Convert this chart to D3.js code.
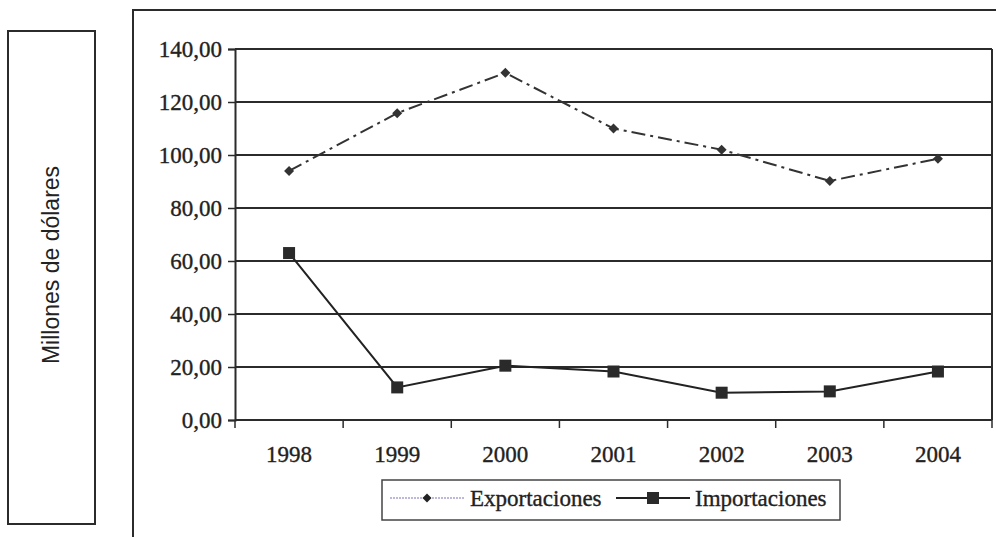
<!DOCTYPE html>
<html>
<head>
<meta charset="utf-8">
<script src="https://cdn.jsdelivr.net/npm/d3@7"></script>
<style>
  body { margin: 0; background: #fff; }
  svg { display: block; }
  .serif { font-family: 'Liberation Serif', 'Times New Roman', serif; stroke: #222; stroke-width: 0.35px; }
</style>
</head>
<body>
<svg id="chart" width="996" height="537"></svg>
<script>
// data
const years = ["1998", "1999", "2000", "2001", "2002", "2003", "2004"]
const exportaciones = [94, 115.8, 131, 110, 102, 90.2, 98.6]
const importaciones = [63, 12.3, 20.5, 18.3, 10.3, 10.8, 18.3]
const yTicks = [0, 20, 40, 60, 80, 100, 120, 140]
const seriesNames = ["Exportaciones", "Importaciones"]

const ink = "#2b2b2b"
const layout = {left: 235, right: 992, top: 49, bottom: 420}

const svg = d3.select("#chart")

// outer frame (runs off the page on right and bottom)
svg.append("path")
   .attr("d", "M133,540 L133,10 L1000,10")
   .attr("fill", "none").attr("stroke", ink).attr("stroke-width", 2)

// box holding the axis title
svg.append("rect")
   .attr("x", 8).attr("y", 31).attr("width", 87).attr("height", 493)
   .attr("fill", "none").attr("stroke", ink).attr("stroke-width", 2)

svg.append("text")
   .attr("transform", "translate(59, 265) rotate(-90)")
   .attr("text-anchor", "middle")
   .style("font-family", "'Liberation Sans', Arial, sans-serif")
   .style("font-size", "23px")
   .attr("fill", "#222")
   .text("Millones de dólares")

const xScale = d3.scaleBand()
                 .domain(years)
                 .range([layout.left, layout.right])

const yScale = d3.scaleLinear()
                 .domain([0, 140])
                 .range([layout.bottom, layout.top])

// gridlines
svg.append("g")
   .selectAll("line")
   .data(yTicks)
   .join("line")
   .attr("x1", layout.left).attr("x2", layout.right)
   .attr("y1", d => yScale(d)).attr("y2", d => yScale(d))
   .attr("stroke", ink).attr("stroke-width", 2)

// right border
svg.append("line")
   .attr("x1", layout.right).attr("x2", layout.right)
   .attr("y1", layout.top).attr("y2", layout.bottom)
   .attr("stroke", ink).attr("stroke-width", 2)

const fmt = d => d3.format(".2f")(d).replace(".", ",")

const yAxis = svg.append("g")
   .attr("transform", `translate(${layout.left}, 0)`)
   .call(d3.axisLeft(yScale).tickValues(yTicks).tickSize(7).tickPadding(6).tickFormat(fmt))
yAxis.select(".domain").attr("stroke", ink).attr("stroke-width", 2)
yAxis.selectAll(".tick line").attr("stroke", ink).attr("stroke-width", 1.5)
yAxis.selectAll("text")
     .attr("class", "serif")
     .style("font-size", "23px")
     .attr("fill", "#222")

// x axis: ticks sit between categories
const xAxis = svg.append("g")
   .attr("transform", `translate(0, ${layout.bottom})`)
xAxis.selectAll("line")
     .data(years.concat(["end"]))
     .join("line")
     .attr("x1", (d, i) => layout.left + i * xScale.step())
     .attr("x2", (d, i) => layout.left + i * xScale.step())
     .attr("y1", 0).attr("y2", 8)
     .attr("stroke", ink).attr("stroke-width", 1.5)
xAxis.selectAll("text")
     .data(years)
     .join("text")
     .attr("class", "serif")
     .attr("x", d => xScale(d) + xScale.bandwidth() / 2)
     .attr("y", 42)
     .attr("text-anchor", "middle")
     .style("font-size", "23px")
     .attr("fill", "#222")
     .text(d => d)

const cx = d => xScale(d) + xScale.bandwidth() / 2
const line = d3.line().x(d => cx(d[0])).y(d => yScale(d[1]))

const expPts = years.map((y, i) => [y, exportaciones[i]])
const impPts = years.map((y, i) => [y, importaciones[i]])

svg.append("path")
   .datum(expPts)
   .attr("d", line)
   .attr("fill", "none")
   .attr("stroke", "#333")
   .attr("stroke-width", 2)
   .attr("stroke-dasharray", "14,5,3,5")

svg.append("g")
   .selectAll("path")
   .data(expPts)
   .join("path")
   .attr("transform", d => `translate(${cx(d[0])}, ${yScale(d[1])}) rotate(45)`)
   .attr("d", d3.symbol(d3.symbolSquare, 50))
   .attr("fill", "#333")

svg.append("path")
   .datum(impPts)
   .attr("d", line)
   .attr("fill", "none")
   .attr("stroke", "#222")
   .attr("stroke-width", 2)

svg.append("g")
   .selectAll("rect")
   .data(impPts)
   .join("rect")
   .attr("x", d => cx(d[0]) - 6)
   .attr("y", d => yScale(d[1]) - 6)
   .attr("width", 12).attr("height", 12)
   .attr("fill", "#2a2a2a")

// legend
const legend = svg.append("g")
legend.append("rect")
      .attr("x", 382).attr("y", 480).attr("width", 458).attr("height", 40)
      .attr("fill", "#fff").attr("stroke", "#444").attr("stroke-width", 1.5)

legend.append("line")
      .attr("x1", 390).attr("x2", 465).attr("y1", 498).attr("y2", 498)
      .attr("stroke", "#7a72b8").attr("stroke-width", 1).attr("stroke-dasharray", "2,1")
legend.append("path")
      .attr("transform", "translate(427, 498) rotate(45)")
      .attr("d", d3.symbol(d3.symbolSquare, 40))
      .attr("fill", "#222")

legend.append("line")
      .attr("x1", 616).attr("x2", 690).attr("y1", 498).attr("y2", 498)
      .attr("stroke", "#222").attr("stroke-width", 2)
legend.append("rect")
      .attr("x", 647).attr("y", 492).attr("width", 12).attr("height", 12)
      .attr("fill", "#2a2a2a")

legend.selectAll("text")
      .data(seriesNames)
      .join("text")
      .attr("class", "serif")
      .attr("x", (d, i) => i === 0 ? 470 : 695)
      .attr("y", 506)
      .style("font-size", "23px")
      .attr("fill", "#222")
      .text(d => d)
</script>
</body>
</html>
